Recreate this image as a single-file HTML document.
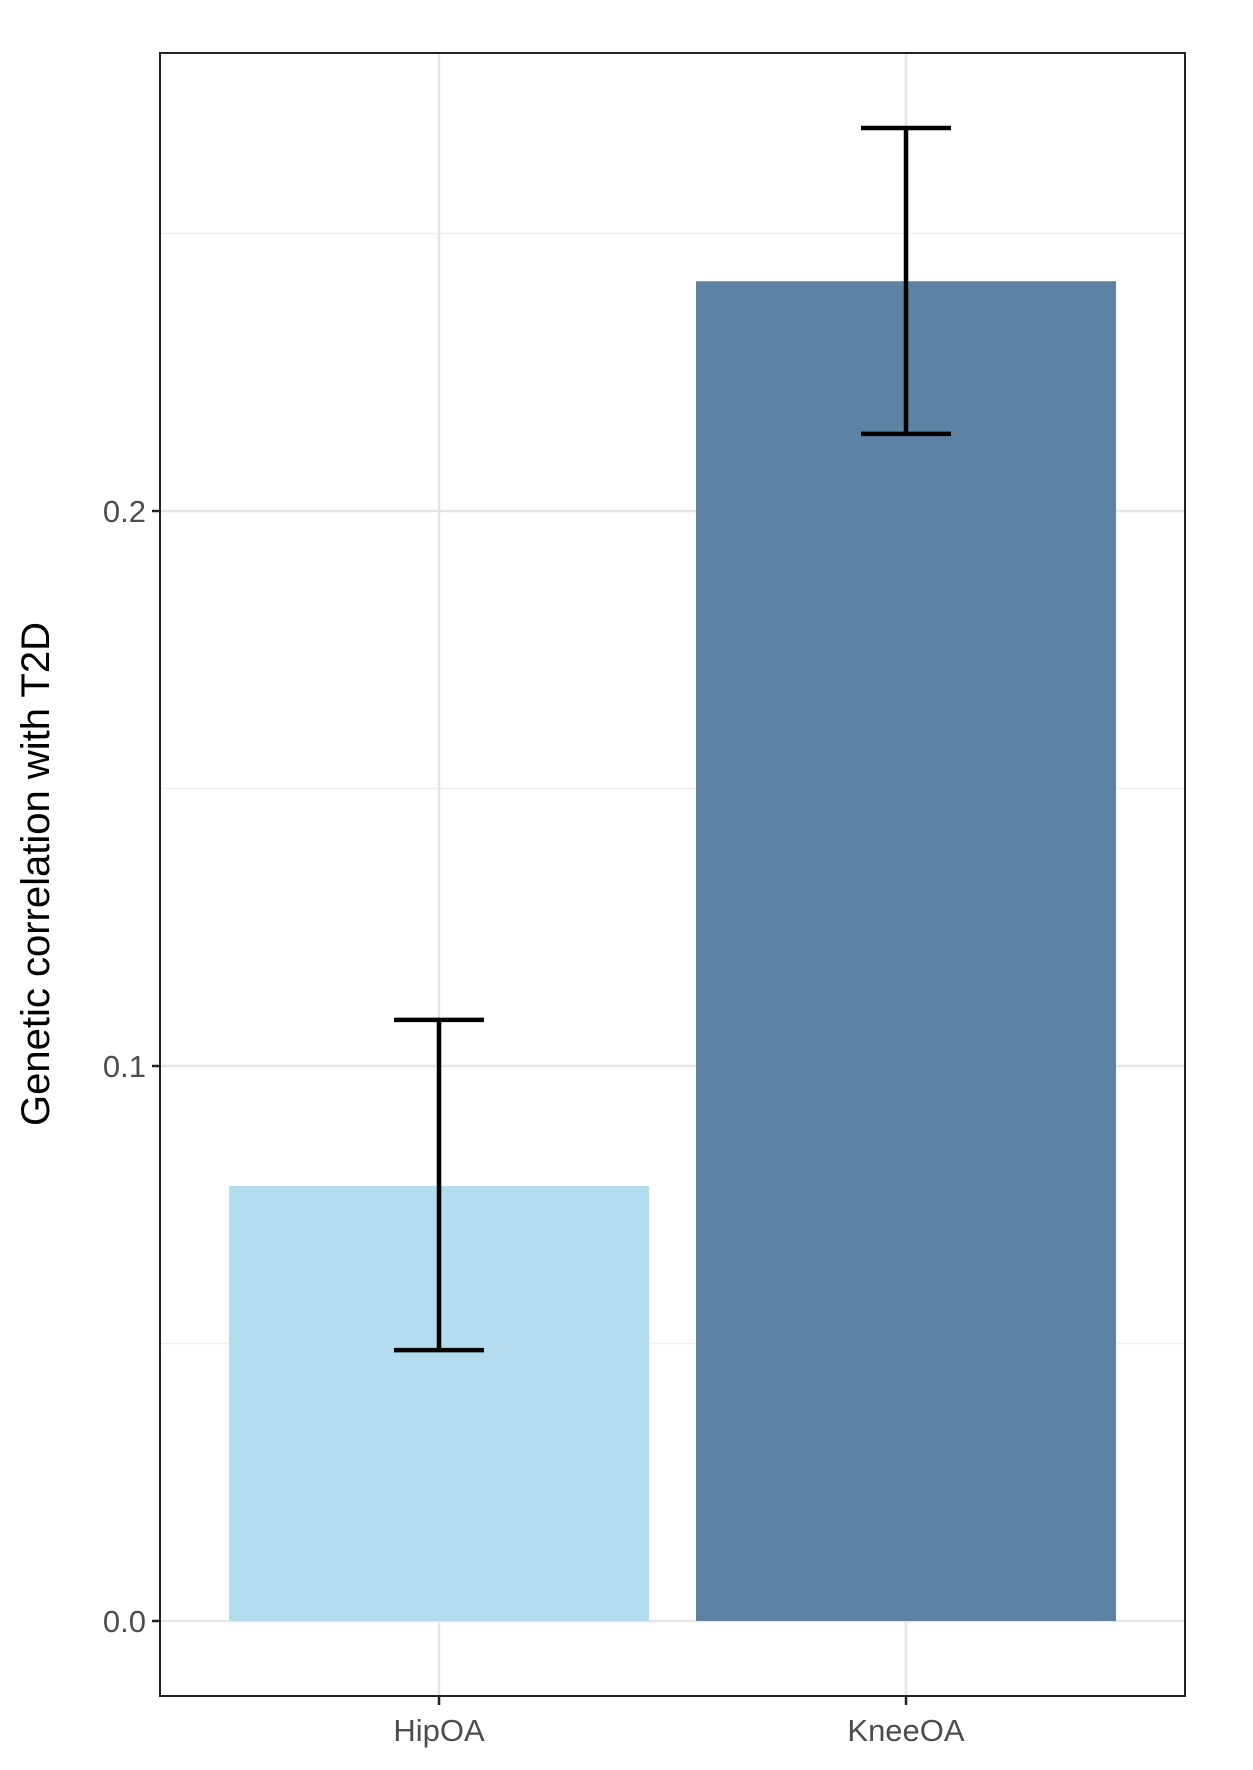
<!DOCTYPE html>
<html><head><meta charset="utf-8"><style>body{margin:0;background:#fff}svg{display:block}</style></head>
<body>
<svg id="c" width="1253" height="1770" xmlns="http://www.w3.org/2000/svg" font-family="Liberation Sans, sans-serif"></svg>
<script>
const categories = ["HipOA", "KneeOA"];
const values = [0.0784, 0.2414];
const lower = [0.0488, 0.2139];
const upper = [0.1083, 0.269];
const colors = ["#b4dcef", "#5e82a4"];
const yTicks = [0.0, 0.1, 0.2];
const yTickLabels = ["0.0", "0.1", "0.2"];
const yMinor = [0.05, 0.15, 0.25];

const svg = document.getElementById('c');
const NS = 'http://www.w3.org/2000/svg';
const P = {l:160, t:53, r:1185, b:1696};
const y = v => 1621 - v * 5550;
const xc = i => 439 + i * 467;
const bw = 420;
function mk(tag, attrs, parent) {
  const e = document.createElementNS(NS, tag);
  for (const k in attrs) e.setAttribute(k, attrs[k]);
  (parent || svg).appendChild(e);
  return e;
}
yMinor.forEach(v => {
  const g = mk('line', {x1:P.l, x2:P.r, y1:y(v), y2:y(v), stroke:'#f0f0f0', 'stroke-width':1.5});
  
  
});
yTicks.forEach(v => {
  const g = mk('line', {x1:P.l, x2:P.r, y1:y(v), y2:y(v), stroke:'#e6e6e6', 'stroke-width':2.5});
  
  
});
categories.forEach((c, i) => {
  const g = mk('line', {x1:xc(i), x2:xc(i), y1:P.t, y2:P.b, stroke:'#e6e6e6', 'stroke-width':2.5});
  
  
});
categories.forEach((c, i) => {
  const b = mk('rect', {x:xc(i)-bw/2, y:y(values[i]), width:bw, height:y(0)-y(values[i]), fill:colors[i]});
  
  
});
categories.forEach((c, i) => {
  const g = mk('g', {stroke:'#000', 'stroke-width':4.5, fill:'none'});
  
  
  mk('line', {x1:xc(i), x2:xc(i), y1:y(upper[i]), y2:y(lower[i])}, g);
  mk('line', {x1:xc(i)-45, x2:xc(i)+45, y1:y(upper[i]), y2:y(upper[i])}, g);
  mk('line', {x1:xc(i)-45, x2:xc(i)+45, y1:y(lower[i]), y2:y(lower[i])}, g);
});
const frame = mk('rect', {x:P.l, y:P.t, width:P.r-P.l, height:P.b-P.t, fill:'none', stroke:'#222', 'stroke-width':2});


yTicks.forEach((v, i) => {
  const t = mk('line', {x1:P.l-8, x2:P.l, y1:y(v), y2:y(v), stroke:'#222', 'stroke-width':2.5});
  
  
  const l = mk('text', {x:P.l-14, y:y(v)+11, 'text-anchor':'end', 'font-size':31, fill:'#4d4d4d'});
  l.textContent = yTickLabels[i];
  
  
});
categories.forEach((c, i) => {
  const t = mk('line', {x1:xc(i), x2:xc(i), y1:P.b, y2:P.b+9, stroke:'#222', 'stroke-width':2.5});
  
  
  const l = mk('text', {x:xc(i), y:1741, 'text-anchor':'middle', 'font-size':31, fill:'#4d4d4d'});
  l.textContent = c;
  
  
});
const yt = mk('text', {x:0, y:0, transform:'translate(49,874) rotate(-90)', 'text-anchor':'middle', 'font-size':40, fill:'#000'});
yt.textContent = 'Genetic correlation with T2D';


</script>
</body></html>
